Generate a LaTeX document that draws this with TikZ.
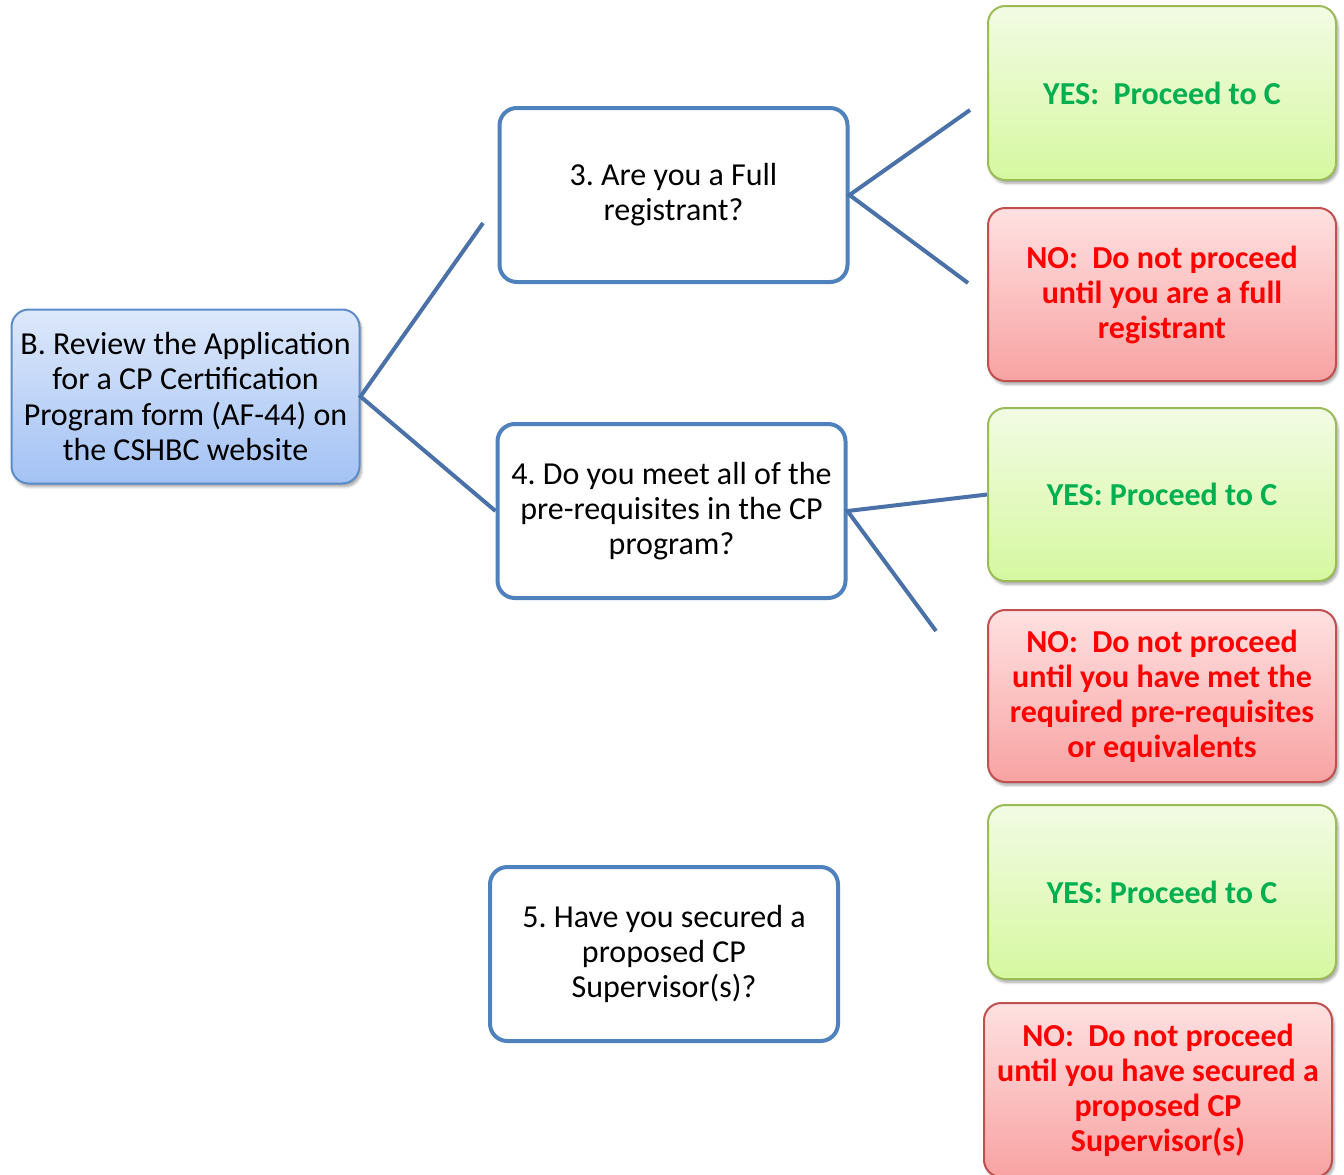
\documentclass[tikz,border=0pt]{standalone}
\usepackage{fontspec}
\setmainfont{Carlito}
\frenchspacing
\usetikzlibrary{shadows.blur}
\definecolor{qblue}{HTML}{4F81BD}
\definecolor{lnblue}{HTML}{4A72A8}
\definecolor{bbtop}{HTML}{DDE8FB}
\definecolor{bbbot}{HTML}{A3C2F4}
\definecolor{bbord}{HTML}{5B8CC8}
\definecolor{gtop}{HTML}{F2FBE4}
\definecolor{gbot}{HTML}{D6F8A0}
\definecolor{gbord}{HTML}{9BBB59}
\definecolor{gtext}{HTML}{00B050}
\definecolor{rtop}{HTML}{FFE1E1}
\definecolor{rbot}{HTML}{F8A2A2}
\definecolor{rbord}{HTML}{C0504D}
\definecolor{rtext}{HTML}{FF0000}
\tikzset{
  boxbase/.style={rectangle, rounded corners=13pt, minimum width=261pt, minimum height=130.5pt,
    align=center, inner sep=2pt, font=\fontsize{24}{26.25}\selectfont},
  startbox/.style={boxbase, draw=bbord, line width=1.5pt, top color=bbtop, bottom color=bbbot,
    blur shadow={shadow xshift=1.5pt, shadow yshift=-2.5pt, shadow blur steps=6, shadow opacity=35}},
  qbox/.style={boxbase, draw=qblue, line width=3pt, fill=white},
  yesbox/.style={boxbase, draw=gbord, line width=1.5pt, top color=gtop, bottom color=gbot,
    text=gtext, font=\fontsize{24}{26.25}\selectfont\bfseries,
    blur shadow={shadow xshift=1.5pt, shadow yshift=-2.5pt, shadow blur steps=6, shadow opacity=35}},
  nobox/.style={boxbase, draw=rbord, line width=1.5pt, top color=rtop, bottom color=rbot,
    text=rtext, font=\fontsize{24}{26.25}\selectfont\bfseries,
    blur shadow={shadow xshift=1.5pt, shadow yshift=-2.5pt, shadow blur steps=6, shadow opacity=35}},
  link/.style={draw=lnblue, line width=3pt}
}
\begin{document}
\begin{tikzpicture}[x=0.75pt, y=-0.75pt]
\useasboundingbox (0,0) rectangle (1344,1174);
\node[startbox] (B) at (185.5,396.5) {B. Review the Application\\for a CP Certification\\Program form (AF-44) on\\the CSHBC website};
\node[qbox] (Q3) at (673.5,195) {3. Are you a Full\\registrant?};
\node[qbox] (Q4) at (671.5,511) {4. Do you meet all of the\\pre-requisites in the CP\\program?};
\node[qbox] (Q5) at (664,954) {5. Have you secured a\\proposed CP\\Supervisor(s)?};
\node[yesbox] (Y1) at (1162,93) {YES:\ \ Proceed to C};
\node[nobox, minimum height=129.75pt] (N1) at (1162,294.5) {NO:\ \ Do not proceed\\until you are a full\\registrant};
\node[yesbox, minimum height=129.75pt] (Y2) at (1162,494.5) {YES: Proceed to C};
\node[nobox, minimum height=129pt] (N2) at (1162,696) {NO:\ \ Do not proceed\\until you have met the\\required pre-requisites\\or equivalents};
\node[yesbox] (Y3) at (1162,892) {YES: Proceed to C};
\node[nobox] (N3) at (1158,1090) {NO:\ \ Do not proceed\\until you have secured a\\proposed CP\\Supervisor(s)};
\coordinate (c1) at (483,223);
\coordinate (c2) at (970,110);
\coordinate (c3) at (968,283);
\coordinate (c4) at (936,631);
\draw[link] (c1) -- (B.east) -- (Q4.west);
\draw[link] (c2) -- (Q3.east) -- (c3);
\draw[link] (Y2.west) -- (Q4.east) -- (c4);
\end{tikzpicture}
\end{document}
